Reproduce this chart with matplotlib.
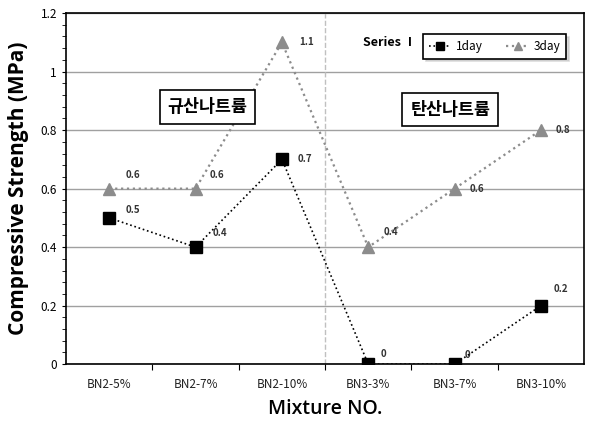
import numpy as np
import matplotlib.pyplot as plt

plt.rcParams['font.family'] = ['Noto Sans CJK KR', 'DejaVu Sans']

mixtures = ['BN2-5%', 'BN2-7%', 'BN2-10%', 'BN3-3%', 'BN3-7%', 'BN3-10%']
day1 = [0.5, 0.4, 0.7, 0.0, 0.0, 0.2]
day3 = [0.6, 0.6, 1.1, 0.4, 0.6, 0.8]

# label offsets in pixels (dx, dy)
off1 = [(16, 8), (17, 14), (16, 0), (12, 10), (10, 9), (13, 17)]
off3 = [(16, 14), (14, 14), (17, 0), (15, 15), (15, 0), (15, 0)]

fig = plt.figure(figsize=(5.9, 4.22), dpi=100)
ax = fig.add_axes([0.112, 0.137, 0.878, 0.832])

x = np.arange(len(mixtures))
ax.plot(x, day1, color='black', ls=':', lw=1.2, marker='s', ms=8,
        mfc='black', mec='black', label='1day', zorder=4)
ax.plot(x, day3, color='#8c8c8c', ls=':', lw=1.6, marker='^', ms=9,
        mfc='#8c8c8c', mec='#8c8c8c', label='3day', zorder=3)

for i in range(len(x)):
    ax.annotate('%g' % day1[i], (x[i], day1[i]), xytext=off1[i],
                textcoords='offset pixels', fontsize=7, va='center', ha='left',
                fontweight='bold', color='#333333')
    ax.annotate('%g' % day3[i], (x[i], day3[i]), xytext=off3[i],
                textcoords='offset pixels', fontsize=7, va='center', ha='left',
                fontweight='bold', color='#333333')

ax.set_xlim(-0.5, 5.5)
ax.set_ylim(0, 1.2)
ax.set_yticks(np.arange(0, 1.21, 0.2))
ax.set_yticklabels(['0', '0.2', '0.4', '0.6', '0.8', '1', '1.2'], fontsize=8.5)
ax.set_yticks(np.arange(0, 1.2, 0.04), minor=True)
ax.yaxis.grid(True, color='#a0a0a0', lw=1)
ax.set_axisbelow(True)

ax.set_xticks(np.arange(0.5, 5.5, 1))
ax.set_xticklabels([])
ax.set_xticks(x, minor=True)
ax.set_xticklabels(mixtures, minor=True, fontsize=8.5, color='#222222')
ax.tick_params(axis='x', which='minor', length=0, pad=10)
ax.tick_params(axis='x', which='major', length=4, direction='out')
ax.tick_params(axis='y', which='both', length=3, direction='out')

for s in ax.spines.values():
    s.set_color('black')
    s.set_linewidth(1.2)

ax.axvline(2.5, color='#c0c0c0', ls='--', lw=1)

ax.set_ylabel('Compressive Strength (MPa)', fontsize=15, fontweight='bold',
              family=['Open Sans', 'DejaVu Sans'], labelpad=8)
ax.set_xlabel('Mixture NO.', fontsize=14, fontweight='semibold',
              family=['Open Sans', 'DejaVu Sans'], labelpad=6)

box = dict(boxstyle='square,pad=0.45', fc='white', ec='black', lw=1.2)
ax.text(1.14, 0.88, '규산나트륨', fontsize=12.5, fontweight='bold', ha='center',
        va='center', bbox=box)
ax.text(3.95, 0.87, '탄산나트륨', fontsize=12.5, fontweight='bold', ha='center',
        va='center', bbox=box)

ax.text(0.573, 0.915, 'Series Ⅰ', transform=ax.transAxes, fontsize=9,
        fontweight='bold', va='center')
leg = ax.legend(loc='upper right', bbox_to_anchor=(0.977, 0.958), ncol=2,
                prop={'size': 8.5}, frameon=True,
                fancybox=False, shadow={'color': '#bbbbbb'},
                edgecolor='black', handlelength=1.9, handletextpad=0.4,
                columnspacing=2.0, borderpad=0.5, markerscale=0.7)
leg.get_frame().set_linewidth(1.2)

fig.savefig('out.png', dpi=100)
